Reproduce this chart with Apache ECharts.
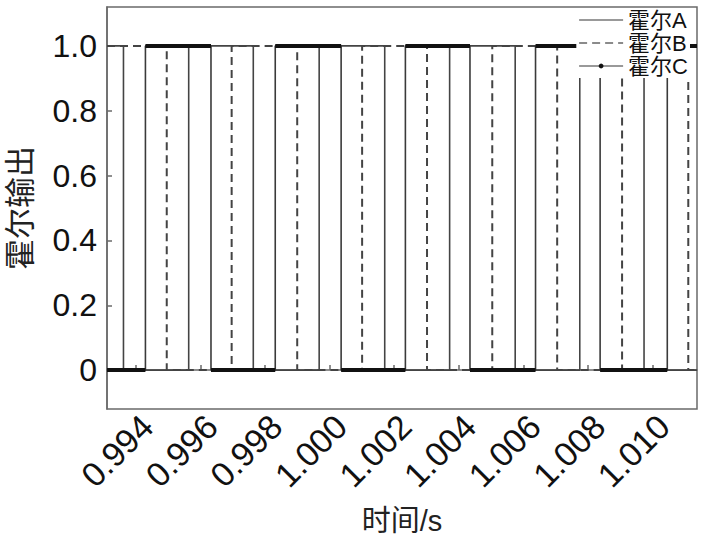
<!DOCTYPE html>
<html>
<head>
<meta charset="utf-8">
<script src="https://cdn.jsdelivr.net/npm/echarts@6/dist/echarts.min.js"></script>
<style>html,body{margin:0;padding:0;background:#fff;}#chart{width:703px;height:539px;}</style>
</head>
<body>
<div id="chart"></div>
<script>
// Time window (s)
var timeMin = 0.99311;
var timeMax = 1.01138;
// Hall signals: initial level and switching instants (s)
var hallAStart = 1;
var hallAEdges = [0.99362, 0.99564, 0.99764, 0.99968, 1.00171, 1.00372, 1.00575, 1.00775, 1.00974];
var hallBStart = 1;
var hallBEdges = [0.99496, 0.99697, 0.99900, 1.00101, 1.00302, 1.00504, 1.00705, 1.00906, 1.01111];
var hallCStart = 0;
var hallCEdges = [0.99430, 0.99633, 0.99832, 1.00036, 1.00235, 1.00435, 1.00638, 1.00838, 1.01046];
var seriesNames = ['霍尔A', '霍尔B', '霍尔C'];
var yTicks = [0, 0.2, 0.4, 0.6, 0.8, 1.0];

function stepData(start, edges) {
  var pts = [[timeMin, start]];
  var v = start;
  edges.forEach(function (e) { v = 1 - v; pts.push([e, v]); });
  pts.push([timeMax, v]);
  return pts;
}
function levelSegments(start, edges) {
  var bounds = [timeMin].concat(edges, [timeMax]);
  var pts = [];
  var v = start;
  for (var i = 0; i < bounds.length - 1; i++) {
    pts.push([bounds[i], v]);
    pts.push([bounds[i + 1], v]);
    pts.push([bounds[i + 1], '-']);
    v = 1 - v;
  }
  return pts;
}

var font = "'Liberation Sans', Arial, 'Noto Sans CJK SC', sans-serif";
var axisColor = '#6a6a6a';
var chart = echarts.init(document.getElementById('chart'), null, {renderer: 'svg'});
chart.setOption({
  animation: false,
  backgroundColor: '#fff',
  grid: {left: 107, right: 6, top: 7, bottom: 130, show: true, borderColor: axisColor, borderWidth: 1.5, outerBoundsMode: 'none'},
  legend: {
    orient: 'vertical', right: 13, top: 9, padding: [0, 2, 1, 2], itemGap: 1, z: 20,
    itemWidth: 44, itemHeight: 6, backgroundColor: '#fff',
    textStyle: {fontFamily: font, fontSize: 22, lineHeight: 20.5, color: '#111'},
    data: [
      {name: seriesNames[0], itemStyle: {opacity: 0}, lineStyle: {color: '#777', width: 1.3}},
      {name: seriesNames[1], itemStyle: {opacity: 0}, lineStyle: {color: '#666', width: 1.6}},
      {name: seriesNames[2], itemStyle: {color: '#111', opacity: 1}, lineStyle: {color: '#777', width: 1.3}}
    ]
  },
  xAxis: {
    type: 'value', min: timeMin, max: timeMax, splitNumber: 9, minInterval: 0.002, maxInterval: 0.002,
    name: '时间/s', nameLocation: 'middle', nameGap: 97,
    nameTextStyle: {fontFamily: font, fontSize: 29, color: '#222'},
    axisLine: {lineStyle: {color: axisColor, width: 1.5}},
    axisTick: {inside: true, length: 5, lineStyle: {color: axisColor, width: 1.5}},
    splitLine: {show: false},
    axisLabel: {
      rotate: 45, margin: 23, padding: [0, -16, 0, 0], fontFamily: font, fontSize: 34, color: '#111',
      showMinLabel: false, showMaxLabel: false,
      formatter: function (v) { return v.toFixed(3); }
    }
  },
  yAxis: {
    type: 'value', min: -0.12, max: 1.12, splitNumber: 6, minInterval: 0.2, maxInterval: 0.2,
    name: '霍尔输出', nameLocation: 'middle', nameGap: 71, nameRotate: 90,
    nameTextStyle: {fontFamily: font, fontSize: 31, color: '#222'},
    axisLine: {lineStyle: {color: axisColor, width: 1.5}},
    axisTick: {inside: true, length: 5, lineStyle: {color: axisColor, width: 1.5}},
    splitLine: {show: false},
    axisLabel: {
      margin: 10, fontFamily: font, fontSize: 32, color: '#111',
      showMinLabel: false, showMaxLabel: false,
      formatter: function (v) {
        var r = Math.round(v * 10) / 10;
        if (Math.abs(r - v) > 1e-6 || yTicks.indexOf(r) < 0) return '';
        return r === 0 ? '0' : r.toFixed(1);
      }
    }
  },
  series: [
    {name: seriesNames[1], type: 'line', step: 'end', symbol: 'none', z: 2,
     lineStyle: {color: '#444', width: 2, type: [8, 5]}, data: stepData(hallBStart, hallBEdges)},
    {name: seriesNames[0], type: 'line', step: 'end', symbol: 'none', z: 3,
     lineStyle: {color: '#444', width: 1.6}, data: stepData(hallAStart, hallAEdges)},
    {name: seriesNames[2], type: 'line', step: 'end', symbol: 'circle', symbolSize: 4, showSymbol: false, z: 3,
     itemStyle: {color: '#111'},
     lineStyle: {color: '#3a3a3a', width: 1.6}, data: stepData(hallCStart, hallCEdges)},
    {name: 'C-level', type: 'line', symbol: 'none', z: 4, connectNulls: false,
     lineStyle: {color: '#111', width: 4}, data: levelSegments(hallCStart, hallCEdges)}
  ]
});
</script>
</body>
</html>
